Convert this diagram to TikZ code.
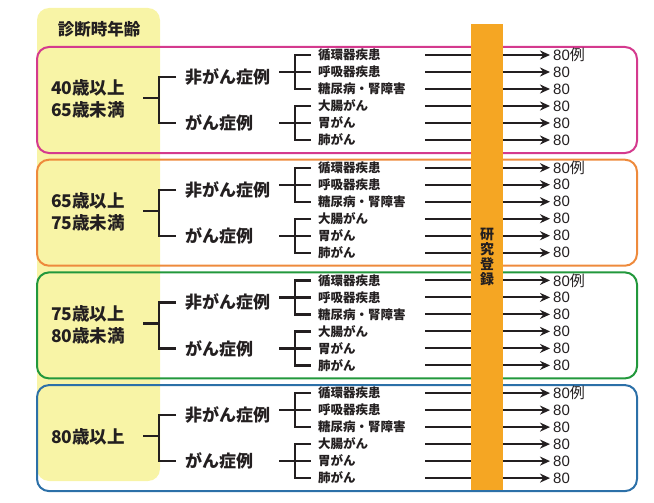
\documentclass[tikz,border=0pt]{standalone}
\usepackage{fontspec}
\setmainfont{Liberation Sans}
\newfontfamily\jpfont{Noto Sans CJK JP}
\usetikzlibrary{arrows.meta}

\definecolor{panelyellow}{HTML}{F8F4A6}
\definecolor{barorange}{HTML}{F5A623}
\definecolor{grpmagenta}{HTML}{D43A8E}
\definecolor{grporange}{HTML}{EE8A3C}
\definecolor{grpgreen}{HTML}{22983C}
\definecolor{grpblue}{HTML}{2C70A8}
\definecolor{inkgray}{HTML}{231F20}

\tikzset{
  grpbox/.style={rounded corners=12pt, line width=2pt},
  brk/.style={line width=2.3pt, draw=inkgray},
  flow/.style={line width=2.1pt, draw=inkgray, -{Stealth[length=10pt,width=9pt]}},
  hdr/.style={font=\jpfont\bfseries\fontsize{16.5}{20}\selectfont, text=inkgray},
  agelbl/.style={font=\jpfont\bfseries\fontsize{17.5}{22}\selectfont, align=left, text=inkgray},
  cat/.style={font=\jpfont\bfseries\fontsize{17}{20}\selectfont, text=inkgray, inner sep=1pt, anchor=west},
  dis/.style={font=\jpfont\bfseries\fontsize{12.5}{14}\selectfont, text=inkgray, inner sep=1pt, anchor=west},
  cnt/.style={font=\fontsize{15}{17}\selectfont, text=inkgray, inner xsep=3pt, inner ysep=0pt, anchor=west},
  regbar/.style={fill=barorange, minimum width=32pt, minimum height=466pt, align=center,
    font=\jpfont\bfseries\fontsize{14}{15}\selectfont, text=inkgray}
}

\begin{document}
\begin{tikzpicture}[x=1pt,y=-1pt]
  \useasboundingbox (0,0) rectangle (654,503);
  \fill[panelyellow, rounded corners=12pt] (37,8) rectangle (160,481);
  \node[hdr] (hdr) at (99,29) {診断時年齢};

  \foreach \col/\agetxt [count=\k] in {grpmagenta/{40歳以上\\65歳未満}, grporange/{65歳以上\\75歳未満},
      grpgreen/{75歳以上\\80歳未満}, grpblue/{80歳以上}}{
    \pgfmathsetmacro{\t}{47+(\k-1)*112.7}
    \draw[grpbox, draw=\col] (37,\t) rectangle (637,\t+106);

    \node[agelbl] (age\k) at (88,\t+52) {\agetxt};
    \node[cat] (non\k) at (184,\t+30) {非がん症例};
    \node[cat] (can\k) at (184,\t+76) {がん症例};
    \coordinate (astub\k) at (143,\t+51);
    \coordinate (avert\k) at (159,\t+51);
    \draw[brk] (astub\k) -- (avert\k);
    \draw[brk] ([xshift=-8pt]non\k.west) -| (avert\k) |- ([xshift=-8pt]can\k.west);

    \foreach \dname [count=\r] in {循環器疾患, 呼吸器疾患, 糖尿病・腎障害, 大腸がん, 胃がん, 肺がん}{
      \pgfmathsetmacro{\ry}{\t+8+17*(\r-1)}
      \node[dis] (dis\k\r) at (317,\ry) {\dname};
      \coordinate (as\k\r) at (425,\ry);
      \ifnum\r=1
        \node[cnt] (n\k\r) at (550,\ry) {80{\jpfont 例}};
      \else
        \node[cnt] (n\k\r) at (550,\ry) {80};
      \fi
      \draw[flow] (as\k\r) -- (n\k\r.west);
    }

    \coordinate (nstub\k) at (279,\t+25);
    \coordinate (nvert\k) at (295,\t+25);
    \coordinate (cstub\k) at (279,\t+76);
    \coordinate (cvert\k) at (295,\t+76);
    \draw[brk] (nstub\k) -- ([xshift=-6pt]dis\k2.west);
    \draw[brk] ([xshift=-6pt]dis\k1.west) -| (nvert\k) |- ([xshift=-6pt]dis\k3.west);
    \draw[brk] (cstub\k) -- ([xshift=-6pt]dis\k5.west);
    \draw[brk] ([xshift=-6pt]dis\k4.west) -| (cvert\k) |- ([xshift=-6pt]dis\k6.west);
  }

  \node[regbar] (reg) at (487,257) {研\\究\\登\\録};
\end{tikzpicture}
\end{document}
